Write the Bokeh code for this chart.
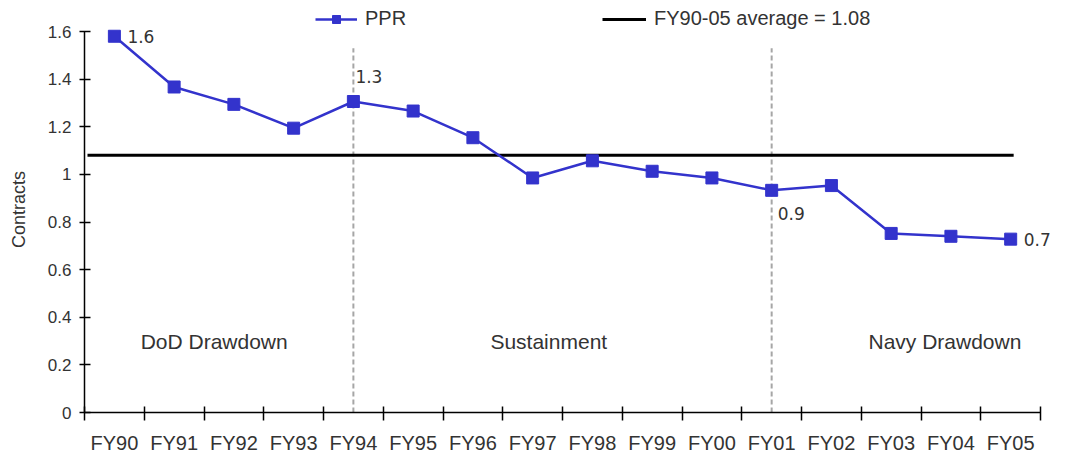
from bokeh.plotting import figure
from bokeh.models import (Range1d, FixedTicker, CustomJSTickFormatter, Legend, LegendItem, Label)
from bokeh.core.properties import value
from bokeh.embed import file_html
from bokeh.resources import INLINE

# ---- data ----
categories = ["FY90", "FY91", "FY92", "FY93", "FY94", "FY95", "FY96", "FY97",
              "FY98", "FY99", "FY00", "FY01", "FY02", "FY03", "FY04", "FY05"]
ppr = [1.58, 1.367, 1.294, 1.194, 1.306, 1.266, 1.154, 0.985,
       1.057, 1.013, 0.985, 0.933, 0.953, 0.752, 0.740, 0.728]
average = 1.08
labelled = ["FY90", "FY94", "FY01", "FY05"]
phase_breaks = ["FY94", "FY01"]
phase_names = ["DoD Drawdown", "Sustainment", "Navy Drawdown"]
y_ticks = [0, 0.2, 0.4, 0.6, 0.8, 1.0, 1.2, 1.4, 1.6]

idx = {c: i for i, c in enumerate(categories)}
xs = list(range(len(categories)))
n = len(categories)

BLUE = "#3333cc"
TXT = "#333333"

p = figure(width=1054, height=456, output_backend="svg", toolbar_location=None,
           x_range=Range1d(-0.5, n - 0.3), y_range=Range1d(0, 1.705),
           min_border_left=84, min_border_right=2, min_border_top=6, min_border_bottom=44)
p.outline_line_color = None
p.xgrid.visible = False
p.ygrid.visible = False
p.background_fill_color = "white"

# x axis: labels at centers, ticks at boundaries
xa = p.xaxis[0]
xa.ticker = FixedTicker(ticks=xs, minor_ticks=[i - 0.5 for i in range(n + 1)])
xa.formatter = CustomJSTickFormatter(args=dict(cats=categories),
                                     code="return cats[Math.round(tick)] || '';")
xa.bounds = (-0.5, n - 0.5)
xa.major_tick_in = 0
xa.major_tick_out = 0
xa.minor_tick_in = 6
xa.minor_tick_out = 8
xa.minor_tick_line_color = "black"
xa.minor_tick_line_width = 1.5
xa.axis_line_color = "black"
xa.axis_line_width = 1.5
xa.major_label_text_font = "Liberation Sans"
xa.major_label_text_font_size = "20px"
xa.major_label_text_color = TXT
xa.major_label_text_line_height = 1.0
xa.major_label_standoff = 11

ya = p.yaxis[0]
ya.ticker = FixedTicker(ticks=y_ticks)
ya.formatter = CustomJSTickFormatter(code="return (Math.round(tick*10)/10).toString();")
ya.bounds = (0, 1.6)
ya.major_tick_in = 6
ya.major_tick_out = 5
ya.major_tick_line_width = 1.5
ya.minor_tick_line_color = None
ya.axis_line_color = "black"
ya.axis_line_width = 1.5
ya.major_label_text_font = "Liberation Sans"
ya.major_label_text_font_size = "17px"
ya.major_label_text_color = TXT
ya.major_label_standoff = 8
ya.axis_label = "Contracts"
ya.axis_label_text_font = "Liberation Sans"
ya.axis_label_text_font_size = "18px"
ya.axis_label_text_font_style = "normal"
ya.axis_label_text_color = TXT
ya.axis_label_standoff = 16

# phase separators
bx = [idx[c] for c in phase_breaks]
p.segment(x0=bx, y0=[0] * len(bx), x1=bx, y1=[1.53] * len(bx),
          line_color="#a6a6a6", line_width=2, line_dash="5 3")

# average line
avg_r = p.line(x=[-0.45, n - 0.95], y=[average, average],
               line_color="black", line_width=3)

# PPR series
line_r = p.line(x=xs, y=ppr, line_color=BLUE, line_width=2.5)
sc_r = p.scatter(x=xs, y=ppr, marker="square", size=12, fill_color=BLUE, line_color=BLUE)

# value labels
xoff = [13, 2, 6, 13]
yoff = [0, 25, -23, 0]
for c, dx, dy in zip(labelled, xoff, yoff):
    v = ppr[idx[c]]
    p.add_layout(Label(x=idx[c], y=v, text=f"{v:.1f}", x_offset=dx, y_offset=dy,
                       text_font="DejaVu Sans", text_font_size="17px", text_color=TXT,
                       text_align="left", text_baseline="middle"))

# phase names
p.text(x=[1.67, 7.27, 13.9], y=[0.3, 0.3, 0.3], text=phase_names,
       text_font=value("Liberation Sans"), text_font_size="21px", text_color=TXT,
       text_align="center", text_baseline="middle")

# legends
def mk_legend(items, loc, gw):
    return Legend(items=items, location=loc, orientation="horizontal",
                  glyph_width=gw, glyph_height=20, label_standoff=8, padding=0, margin=0,
                  border_line_alpha=0, background_fill_alpha=0,
                  label_text_font="Liberation Sans", label_text_font_size="20px",
                  label_text_color=TXT)

leg1 = mk_legend([LegendItem(label="PPR", renderers=[line_r, sc_r])], (231, 382), 42)
leg2 = mk_legend([LegendItem(label="FY90-05 average = 1.08", renderers=[avg_r])], (518, 382), 44)
p.add_layout(leg1)
p.add_layout(leg2)

open("out.html", "w").write(file_html(p, INLINE))
